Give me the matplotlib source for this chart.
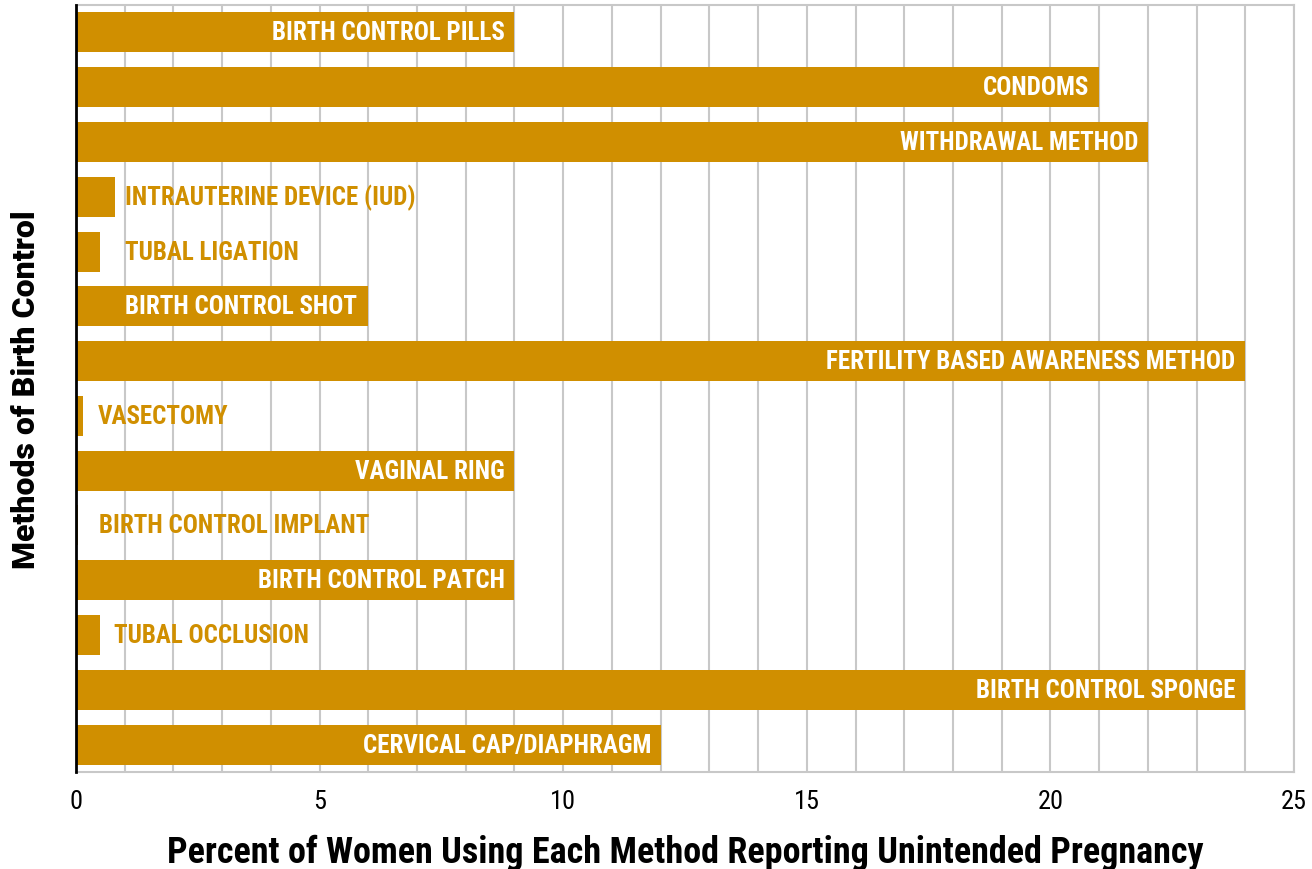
import matplotlib
matplotlib.use("Agg")
import matplotlib.pyplot as plt
import numpy as np

methods = ["BIRTH CONTROL PILLS", "CONDOMS", "WITHDRAWAL METHOD", "INTRAUTERINE DEVICE (IUD)",
           "TUBAL LIGATION", "BIRTH CONTROL SHOT", "FERTILITY BASED AWARENESS METHOD", "VASECTOMY",
           "VAGINAL RING", "BIRTH CONTROL IMPLANT", "BIRTH CONTROL PATCH", "TUBAL OCCLUSION",
           "BIRTH CONTROL SPONGE", "CERVICAL CAP/DIAPHRAGM"]
percent = [9, 21, 22, 0.8, 0.5, 6, 24, 0.15, 9, 0.05, 9, 0.5, 24, 12]
xticks = [0, 5, 10, 15, 20, 25]
xlabel = "Percent of Women Using Each Method Reporting Unintended Pregnancy"
ylabel = "Methods of Birth Control"

# label placement style: 'in' = white, right-aligned inside bar; otherwise left x (data units)
label_mode = ['in', 'in', 'in', 'out', 'out', 'inleft', 'in', 'out', 'in', 'out', 'in', 'out', 'in', 'in']
label_x = [None, None, None, 1.0, 1.0, 1.0, None, 0.45, None, 0.47, None, 0.78, None, None]

cond = ["Roboto Condensed", "DejaVu Sans"]
gold = "#D08F00"
fig = plt.figure(figsize=(13.12, 8.7), dpi=100)
ax = fig.add_axes([76/1312, 1-773/870, (1294-76)/1312, (773-6)/870])

y = np.arange(len(methods))
ax.barh(y, percent, height=0.73, color=gold, zorder=3)
ax.set_ylim(len(methods)-0.5, -0.5)
ax.set_xlim(0, 25)
ax.set_xticks(np.arange(0, 26, 1), minor=True)
ax.set_xticks(xticks)
ax.set_xticklabels([str(t) for t in xticks], fontsize=19, family=cond)
ax.set_yticks([])
ax.tick_params(axis='x', which='both', length=0, pad=12)
ax.grid(axis='x', which='both', color='#C8C8C8', linewidth=1.5, zorder=0)
for s in ['top', 'right', 'bottom']:
    ax.spines[s].set_color('#C8C8C8')
    ax.spines[s].set_linewidth(1.5)
ax.spines['left'].set_color('black')
ax.spines['left'].set_linewidth(2)
ax.spines['left'].set_zorder(4)

for i, (v, m, lx) in enumerate(zip(percent, label_mode, label_x)):
    if m == 'in':
        ax.annotate(methods[i], (v, i), xytext=(-7, 0), textcoords='offset points',
                    ha='right', va='center', color='white', fontsize=18, fontweight='bold',
                    family=cond, zorder=5)
    else:
        ax.text(lx, i, methods[i], ha='left', va='center',
                color='white' if m == 'inleft' else gold, fontsize=18, fontweight='bold',
                family=cond, zorder=5)

ax.set_xlabel(xlabel, fontsize=26, fontweight='bold', family=cond, labelpad=15)
ax.set_ylabel(ylabel, fontsize=23, fontweight=900, family=["Roboto", "DejaVu Sans"], labelpad=25)

fig.savefig("out.png", dpi=100)
